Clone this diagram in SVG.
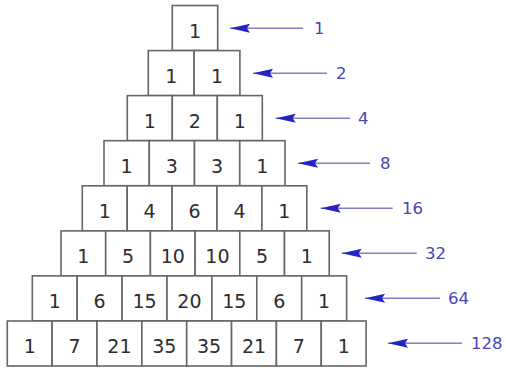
<svg xmlns="http://www.w3.org/2000/svg" width="506" height="368" viewBox="0 0 506 368">
<style>
.c rect{fill:#fff;stroke:#666;stroke-width:1.6}
.c text{font-family:"DejaVu Sans",Verdana,sans-serif;font-size:19px;fill:#2e2e2e;text-anchor:middle}
.ar{stroke:#8080cc;stroke-width:1.5;fill:none;marker-end:url(#ah)}
.lb{font-family:"DejaVu Sans",Verdana,sans-serif;font-size:16.5px;fill:#4646b8}
</style>
<defs>
<marker id="ah" markerUnits="userSpaceOnUse" orient="auto" refX="0" refY="0" viewBox="-22 -6 24 12" markerWidth="24" markerHeight="12" overflow="visible">
<path d="M0,0 L-20,-4.5 L-17,0 L-20,4.5 Z" fill="#2424c4"/>
</marker>
</defs>
<rect width="506" height="368" fill="#fff"/>
<g id="row0">
<g id="c0-0" class="c"><rect x="172.3" y="5.5" width="45.4" height="45"/><text x="195" y="37.5">1</text></g>
</g>
<g id="row1">
<g id="c1-0" class="c"><rect x="148.3" y="50.6" width="45.8" height="45"/><text x="171.2" y="82.6">1</text></g>
<g id="c1-1" class="c"><rect x="194.1" y="50.6" width="45.8" height="45"/><text x="217" y="82.6">1</text></g>
</g>
<g id="row2">
<g id="c2-0" class="c"><rect x="127.3" y="95.6" width="45" height="45"/><text x="149.8" y="127.6">1</text></g>
<g id="c2-1" class="c"><rect x="172.3" y="95.6" width="45" height="45"/><text x="194.8" y="127.6">2</text></g>
<g id="c2-2" class="c"><rect x="217.3" y="95.6" width="45" height="45"/><text x="239.8" y="127.6">1</text></g>
</g>
<g id="row3">
<g id="c3-0" class="c"><rect x="104" y="140.7" width="45.25" height="45"/><text x="126.6" y="172.7">1</text></g>
<g id="c3-1" class="c"><rect x="149.25" y="140.7" width="45.25" height="45"/><text x="171.9" y="172.7">3</text></g>
<g id="c3-2" class="c"><rect x="194.5" y="140.7" width="45.25" height="45"/><text x="217.1" y="172.7">3</text></g>
<g id="c3-3" class="c"><rect x="239.75" y="140.7" width="45.25" height="45"/><text x="262.4" y="172.7">1</text></g>
</g>
<g id="row4">
<g id="c4-0" class="c"><rect x="82.3" y="185.8" width="44.9" height="45"/><text x="104.75" y="217.8">1</text></g>
<g id="c4-1" class="c"><rect x="127.2" y="185.8" width="44.9" height="45"/><text x="149.65" y="217.8">4</text></g>
<g id="c4-2" class="c"><rect x="172.1" y="185.8" width="44.9" height="45"/><text x="194.55" y="217.8">6</text></g>
<g id="c4-3" class="c"><rect x="217" y="185.8" width="44.9" height="45"/><text x="239.45" y="217.8">4</text></g>
<g id="c4-4" class="c"><rect x="261.9" y="185.8" width="44.9" height="45"/><text x="284.35" y="217.8">1</text></g>
</g>
<g id="row5">
<g id="c5-0" class="c"><rect x="61" y="230.9" width="44.7" height="45"/><text x="83.35" y="262.9">1</text></g>
<g id="c5-1" class="c"><rect x="105.7" y="230.9" width="44.7" height="45"/><text x="128.05" y="262.9">5</text></g>
<g id="c5-2" class="c"><rect x="150.4" y="230.9" width="44.7" height="45"/><text x="172.75" y="262.9">10</text></g>
<g id="c5-3" class="c"><rect x="195.1" y="230.9" width="44.7" height="45"/><text x="217.45" y="262.9">10</text></g>
<g id="c5-4" class="c"><rect x="239.8" y="230.9" width="44.7" height="45"/><text x="262.15" y="262.9">5</text></g>
<g id="c5-5" class="c"><rect x="284.5" y="230.9" width="44.7" height="45"/><text x="306.85" y="262.9">1</text></g>
</g>
<g id="row6">
<g id="c6-0" class="c"><rect x="32.3" y="275.9" width="44.9" height="45"/><text x="54.75" y="307.9">1</text></g>
<g id="c6-1" class="c"><rect x="77.2" y="275.9" width="44.9" height="45"/><text x="99.65" y="307.9">6</text></g>
<g id="c6-2" class="c"><rect x="122.1" y="275.9" width="44.9" height="45"/><text x="144.55" y="307.9">15</text></g>
<g id="c6-3" class="c"><rect x="167" y="275.9" width="44.9" height="45"/><text x="189.45" y="307.9">20</text></g>
<g id="c6-4" class="c"><rect x="211.9" y="275.9" width="44.9" height="45"/><text x="234.35" y="307.9">15</text></g>
<g id="c6-5" class="c"><rect x="256.8" y="275.9" width="44.9" height="45"/><text x="279.25" y="307.9">6</text></g>
<g id="c6-6" class="c"><rect x="301.7" y="275.9" width="44.9" height="45"/><text x="324.15" y="307.9">1</text></g>
</g>
<g id="row7">
<g id="c7-0" class="c"><rect x="7.3" y="321" width="44.85" height="45"/><text x="29.7" y="353">1</text></g>
<g id="c7-1" class="c"><rect x="52.15" y="321" width="44.85" height="45"/><text x="74.6" y="353">7</text></g>
<g id="c7-2" class="c"><rect x="97" y="321" width="44.85" height="45"/><text x="119.4" y="353">21</text></g>
<g id="c7-3" class="c"><rect x="141.85" y="321" width="44.85" height="45"/><text x="164.3" y="353">35</text></g>
<g id="c7-4" class="c"><rect x="186.7" y="321" width="44.85" height="45"/><text x="209.1" y="353">35</text></g>
<g id="c7-5" class="c"><rect x="231.55" y="321" width="44.85" height="45"/><text x="254" y="353">21</text></g>
<g id="c7-6" class="c"><rect x="276.4" y="321" width="44.85" height="45"/><text x="298.8" y="353">7</text></g>
<g id="c7-7" class="c"><rect x="321.25" y="321" width="44.85" height="45"/><text x="343.7" y="353">1</text></g>
</g>
<g id="connectors">
<line class="ar" x1="303" y1="28.3" x2="230" y2="28.3"/>
<line class="ar" x1="327" y1="73.3" x2="253" y2="73.3"/>
<line class="ar" x1="350" y1="118.3" x2="275.7" y2="118.3"/>
<line class="ar" x1="370" y1="163.3" x2="298" y2="163.3"/>
<line class="ar" x1="392.7" y1="208.3" x2="320.7" y2="208.3"/>
<line class="ar" x1="416.7" y1="253.3" x2="341.7" y2="253.3"/>
<line class="ar" x1="440" y1="298.3" x2="365" y2="298.3"/>
<line class="ar" x1="462" y1="343.3" x2="388" y2="343.3"/>
</g>
<g id="labels">
<text class="lb" x="314" y="34.3">1</text>
<text class="lb" x="336" y="79.3">2</text>
<text class="lb" x="358" y="124.3">4</text>
<text class="lb" x="380" y="169.3">8</text>
<text class="lb" x="402" y="214.3">16</text>
<text class="lb" x="425" y="259.3">32</text>
<text class="lb" x="448" y="304.3">64</text>
<text class="lb" x="471" y="349.3">128</text>
</g>
</svg>
